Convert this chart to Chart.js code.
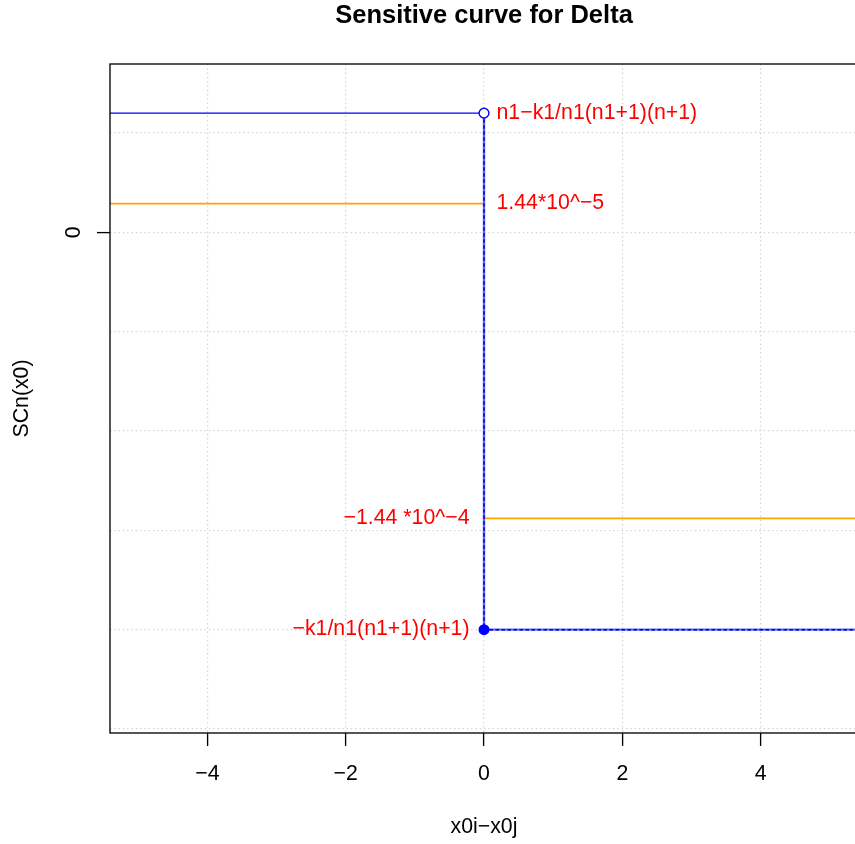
<!DOCTYPE html>
<html>
<head>
<meta charset="utf-8">
<title>Sensitive curve for Delta</title>
<script src="https://cdn.jsdelivr.net/npm/chart.js@4"></script>
<style>
  html, body { margin: 0; padding: 0; background: #fff; overflow: hidden; }
  canvas { display: block; }
</style>
</head>
<body>
<canvas id="c" width="870" height="844"></canvas>
<script>
// Axis limits and tick positions
const xLimits = [-5.408, 5.408];
const yLimits = [-2.5202e-4, 8.473e-5];
const xTicks = [-4, -2, 0, 2, 4];
const xTickLabels = ['\u22124', '\u22122', '0', '2', '4'];
const yGridValues = [5e-5, 0, -5e-5, -1e-4, -1.5e-4, -2e-4, -2.5e-4];
const yTickValues = [0];
const yTickLabels = ['0'];

// Step position and levels of the two step functions
const jumpX = 0;
const blueLevels = [6e-5, -2e-4];        // before / after the jump
const orangeLevels = [1.44e-5, -1.44e-4]; // before / after the jump

// Annotations next to the jump
const noteTexts = ['n1\u2212k1/n1(n1+1)(n+1)', '1.44*10^\u22125', '\u22121.44 *10^\u22124', '\u2212k1/n1(n1+1)(n+1)'];
const noteValues = [blueLevels[0], orangeLevels[0], orangeLevels[1], blueLevels[1]];
const noteSides = ['right', 'right', 'left', 'left'];

const titleText = 'Sensitive curve for Delta';
const xTitle = 'x0i\u2212x0j';
const yTitle = 'SCn(x0)';

const FONT = '"Liberation Sans", Arial, Helvetica, sans-serif';

const textPlugin = {
  id: 'rtext',
  afterDraw(chart) {
    const ctx = chart.ctx;
    const xs = chart.scales.x, ys = chart.scales.y;
    const ca = chart.chartArea;
    ctx.save();
    // plot box
    ctx.strokeStyle = '#000';
    ctx.lineWidth = 1.33;
    ctx.strokeRect(ca.left, ca.top, ca.right - ca.left, ca.bottom - ca.top);

    const cx = (ca.left + ca.right) / 2;
    // title
    ctx.fillStyle = '#000';
    ctx.font = 'bold 25.5px ' + FONT;
    ctx.textAlign = 'center';
    ctx.textBaseline = 'alphabetic';
    ctx.fillText(titleText, cx, 23);

    // x tick labels
    ctx.font = '21.3px ' + FONT;
    xTicks.forEach((v, i) => {
      ctx.fillText(xTickLabels[i], xs.getPixelForValue(v), 780);
    });
    // x axis title
    ctx.fillText(xTitle, cx, 833);

    // y tick labels (rotated)
    yTickValues.forEach((v, i) => {
      ctx.save();
      ctx.translate(80, ys.getPixelForValue(v));
      ctx.rotate(-Math.PI / 2);
      ctx.textAlign = 'center';
      ctx.fillText(yTickLabels[i], 0, 0);
      ctx.restore();
    });
    // y axis title
    ctx.save();
    ctx.translate(28, (ca.top + ca.bottom) / 2);
    ctx.rotate(-Math.PI / 2);
    ctx.textAlign = 'center';
    ctx.fillText(yTitle, 0, 0);
    ctx.restore();

    // red notes beside the jump
    ctx.fillStyle = '#FF0000';
    const px = xs.getPixelForValue(jumpX);
    noteTexts.forEach((t, i) => {
      const py = ys.getPixelForValue(noteValues[i]) + 5.5;
      if (noteSides[i] === 'right') {
        ctx.textAlign = 'left';
        ctx.fillText(t, px + 12.5, py);
      } else {
        ctx.textAlign = 'right';
        ctx.fillText(t, px - 14.5, py);
      }
    });
    ctx.restore();
  }
};

const seg = (x0, x1, y) => [{x: x0, y: y}, {x: x1, y: y}];
const lowerPath = [
  {x: jumpX, y: blueLevels[0]},
  {x: jumpX, y: blueLevels[1]},
  {x: xLimits[1], y: blueLevels[1]}
];

const chart = new Chart(document.getElementById('c'), {
  type: 'scatter',
  data: {
    datasets: [
      { // open circle at the upper end of the jump
        data: [{x: jumpX, y: blueLevels[0]}],
        showLine: false, pointRadius: 4.9, pointHoverRadius: 4.9,
        pointBackgroundColor: '#fff', pointBorderColor: '#0000FF', pointBorderWidth: 1.4,
        order: 0
      },
      { // filled circle at the lower end of the jump
        data: [{x: jumpX, y: blueLevels[1]}],
        showLine: false, pointRadius: 4.8, pointHoverRadius: 4.8,
        pointBackgroundColor: '#0000FF', pointBorderColor: '#0000FF', pointBorderWidth: 1.4,
        order: 1
      },
      { // dashed overlay on the vertical jump and right branch
        data: lowerPath, showLine: true, pointRadius: 0,
        borderColor: '#0000C8', borderWidth: 1.5, borderDash: [3.5, 2.5],
        order: 2
      },
      { // vertical jump and right branch
        data: lowerPath, showLine: true, pointRadius: 0,
        borderColor: '#5A68FF', borderWidth: 2.4,
        order: 3
      },
      { // left branch of the blue step
        data: seg(xLimits[0], jumpX, blueLevels[0]), showLine: true, pointRadius: 0,
        borderColor: '#0000FF', borderWidth: 1.4,
        order: 4
      },
      { // orange level left of the jump
        data: seg(xLimits[0], jumpX, orangeLevels[0]), showLine: true, pointRadius: 0,
        borderColor: '#FFA500', borderWidth: 1.8,
        order: 5
      },
      { // orange level right of the jump
        data: seg(jumpX, xLimits[1], orangeLevels[1]), showLine: true, pointRadius: 0,
        borderColor: '#FFA500', borderWidth: 1.8,
        order: 6
      }
    ]
  },
  options: {
    responsive: false,
    devicePixelRatio: 1,
    animation: false,
    events: [],
    layout: { padding: { left: 0, right: 12, top: 64, bottom: 0 } },
    plugins: { legend: { display: false }, title: { display: false }, tooltip: { enabled: false } },
    scales: {
      x: {
        type: 'linear', min: xLimits[0], max: xLimits[1],
        afterBuildTicks: s => { s.ticks = xTicks.map(v => ({value: v})); },
        afterFit: s => { s.height = 111; },
        ticks: { display: false },
        border: { display: false, dash: [1.4, 2.9] },
        grid: { color: '#D3D3D3', lineWidth: 1.2, tickLength: 13, tickColor: '#000', tickWidth: 1.33 }
      },
      y: {
        type: 'linear', min: yLimits[0], max: yLimits[1],
        afterBuildTicks: s => { s.ticks = yGridValues.map(v => ({value: v})); },
        afterFit: s => { s.width = 110; },
        ticks: { display: false },
        border: { display: false, dash: [1.4, 2.9] },
        grid: {
          color: '#D3D3D3', lineWidth: 1.2, tickLength: 13, tickWidth: 1.33,
          tickColor: c => (c.tick && yTickValues.includes(c.tick.value)) ? '#000' : 'rgba(0,0,0,0)'
        }
      }
    }
  },
  plugins: [textPlugin]
});
</script>
</body>
</html>
